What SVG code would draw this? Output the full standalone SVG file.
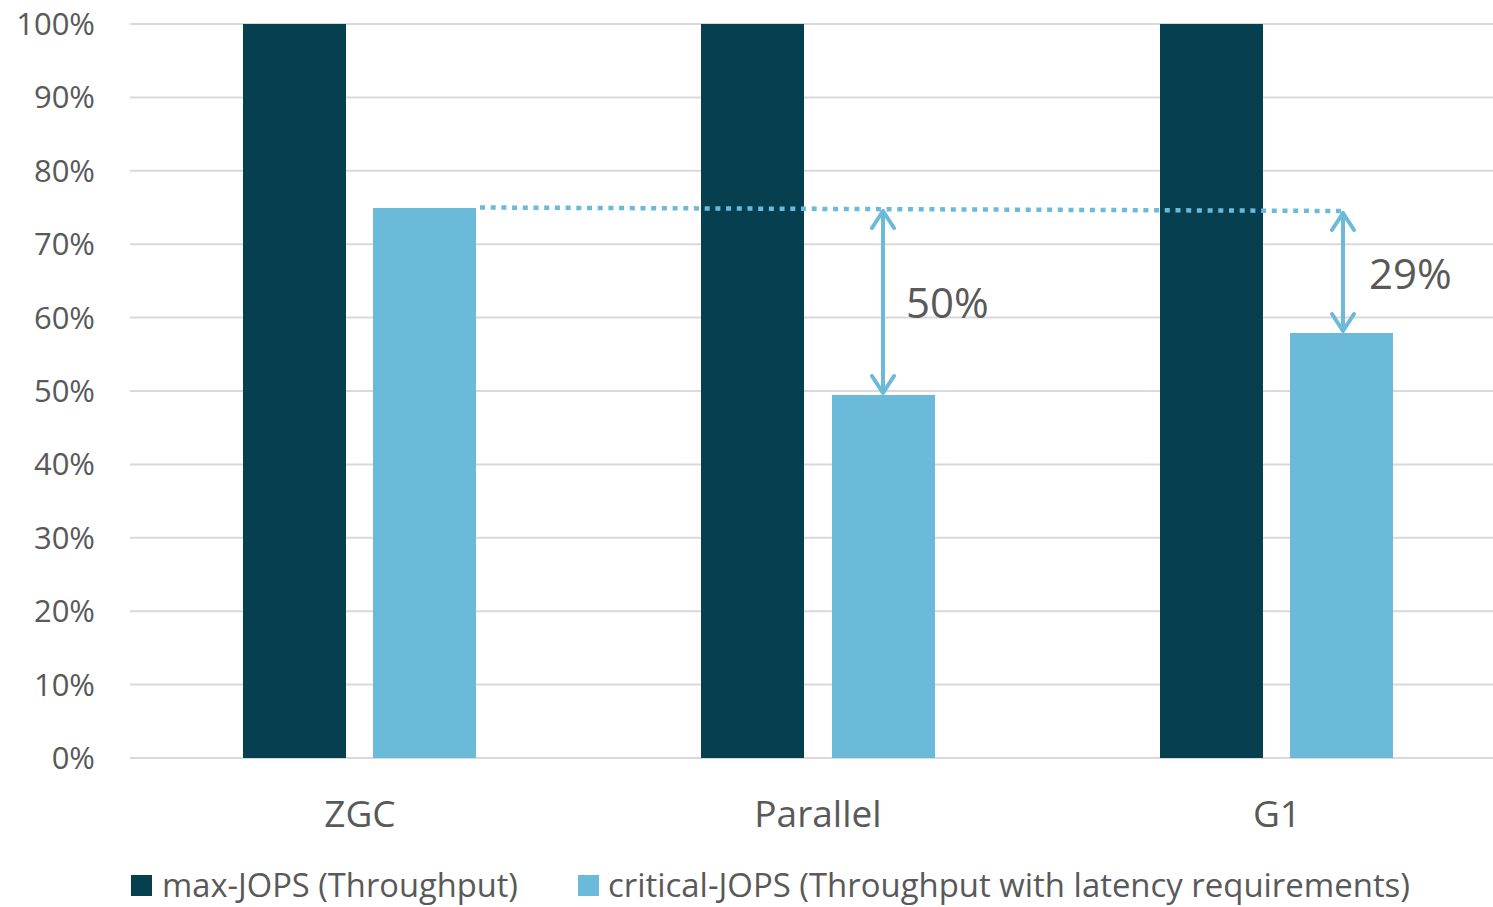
<svg xmlns="http://www.w3.org/2000/svg" width="1493" height="907" viewBox="0 0 1493 907">
<style>
.grid{stroke:#d9d9d9;stroke-width:2}
.dark{fill:#063f50}
.light{fill:#6bbad9}
text{font-family:"Open Sans","Noto Sans",sans-serif;fill:#595959}
.ax{font-size:31px;text-anchor:end}
.cat{font-size:37px;text-anchor:middle}
.lg{font-size:32px}
.pct{font-size:42px}
.arr{stroke:#6bbad9;stroke-width:4;fill:none;stroke-linecap:round;stroke-linejoin:round}
</style>
<rect width="1493" height="907" fill="#fff"/>
<g id="grid">
<line class="grid" x1="130" y1="24" x2="1493" y2="24"/>
<line class="grid" x1="130" y1="97.4" x2="1493" y2="97.4"/>
<line class="grid" x1="130" y1="170.8" x2="1493" y2="170.8"/>
<line class="grid" x1="130" y1="244.2" x2="1493" y2="244.2"/>
<line class="grid" x1="130" y1="317.6" x2="1493" y2="317.6"/>
<line class="grid" x1="130" y1="391" x2="1493" y2="391"/>
<line class="grid" x1="130" y1="464.4" x2="1493" y2="464.4"/>
<line class="grid" x1="130" y1="537.8" x2="1493" y2="537.8"/>
<line class="grid" x1="130" y1="611.2" x2="1493" y2="611.2"/>
<line class="grid" x1="130" y1="684.6" x2="1493" y2="684.6"/>
<line class="grid" x1="130" y1="758" x2="1493" y2="758"/>
</g>
<g id="yaxis">
<text class="ax" x="95" y="35">100%</text>
<text class="ax" x="95" y="108.4">90%</text>
<text class="ax" x="95" y="181.8">80%</text>
<text class="ax" x="95" y="255.2">70%</text>
<text class="ax" x="95" y="328.6">60%</text>
<text class="ax" x="95" y="402">50%</text>
<text class="ax" x="95" y="475.4">40%</text>
<text class="ax" x="95" y="548.8">30%</text>
<text class="ax" x="95" y="622.2">20%</text>
<text class="ax" x="95" y="695.6">10%</text>
<text class="ax" x="95" y="769">0%</text>
</g>
<g id="zgc">
<rect class="dark" x="243" y="24" width="103" height="734"/>
<rect class="light" x="373" y="208" width="103" height="550"/>
<text class="cat" x="360" y="827">ZGC</text>
</g>
<g id="parallel">
<rect class="dark" x="701" y="24" width="103" height="734"/>
<rect class="light" x="832" y="395" width="103" height="363"/>
<text class="cat" x="818" y="827">Parallel</text>
</g>
<g id="g1">
<rect class="dark" x="1160" y="24" width="103" height="734"/>
<rect class="light" x="1290" y="333" width="103" height="425"/>
<text class="cat" x="1277" y="827">G1</text>
</g>
<g id="connectors">
<line x1="480" y1="207.5" x2="1343" y2="211" stroke="#6bbad9" stroke-width="4.5" stroke-dasharray="5 5.7"/>
<path class="arr" d="M883 211 V393 M872 228 L883 211 L894 228 M872 376 L883 393 L894 376"/>
<path class="arr" d="M1343 213 V331 M1332 230 L1343 213 L1354 230 M1332 314 L1343 331 L1354 314"/>
</g>
<g id="labels">
<text class="pct" x="906" y="318">50%</text>
<text class="pct" x="1369" y="289">29%</text>
</g>
<g id="legend">
<rect class="dark" x="131" y="875" width="21" height="21"/>
<text class="lg" x="162" y="897" textLength="356" lengthAdjust="spacingAndGlyphs">max-JOPS (Throughput)</text>
<rect class="light" x="578" y="875" width="21" height="21"/>
<text class="lg" x="608" y="897" textLength="802" lengthAdjust="spacingAndGlyphs">critical-JOPS (Throughput with latency requirements)</text>
</g>
</svg>
